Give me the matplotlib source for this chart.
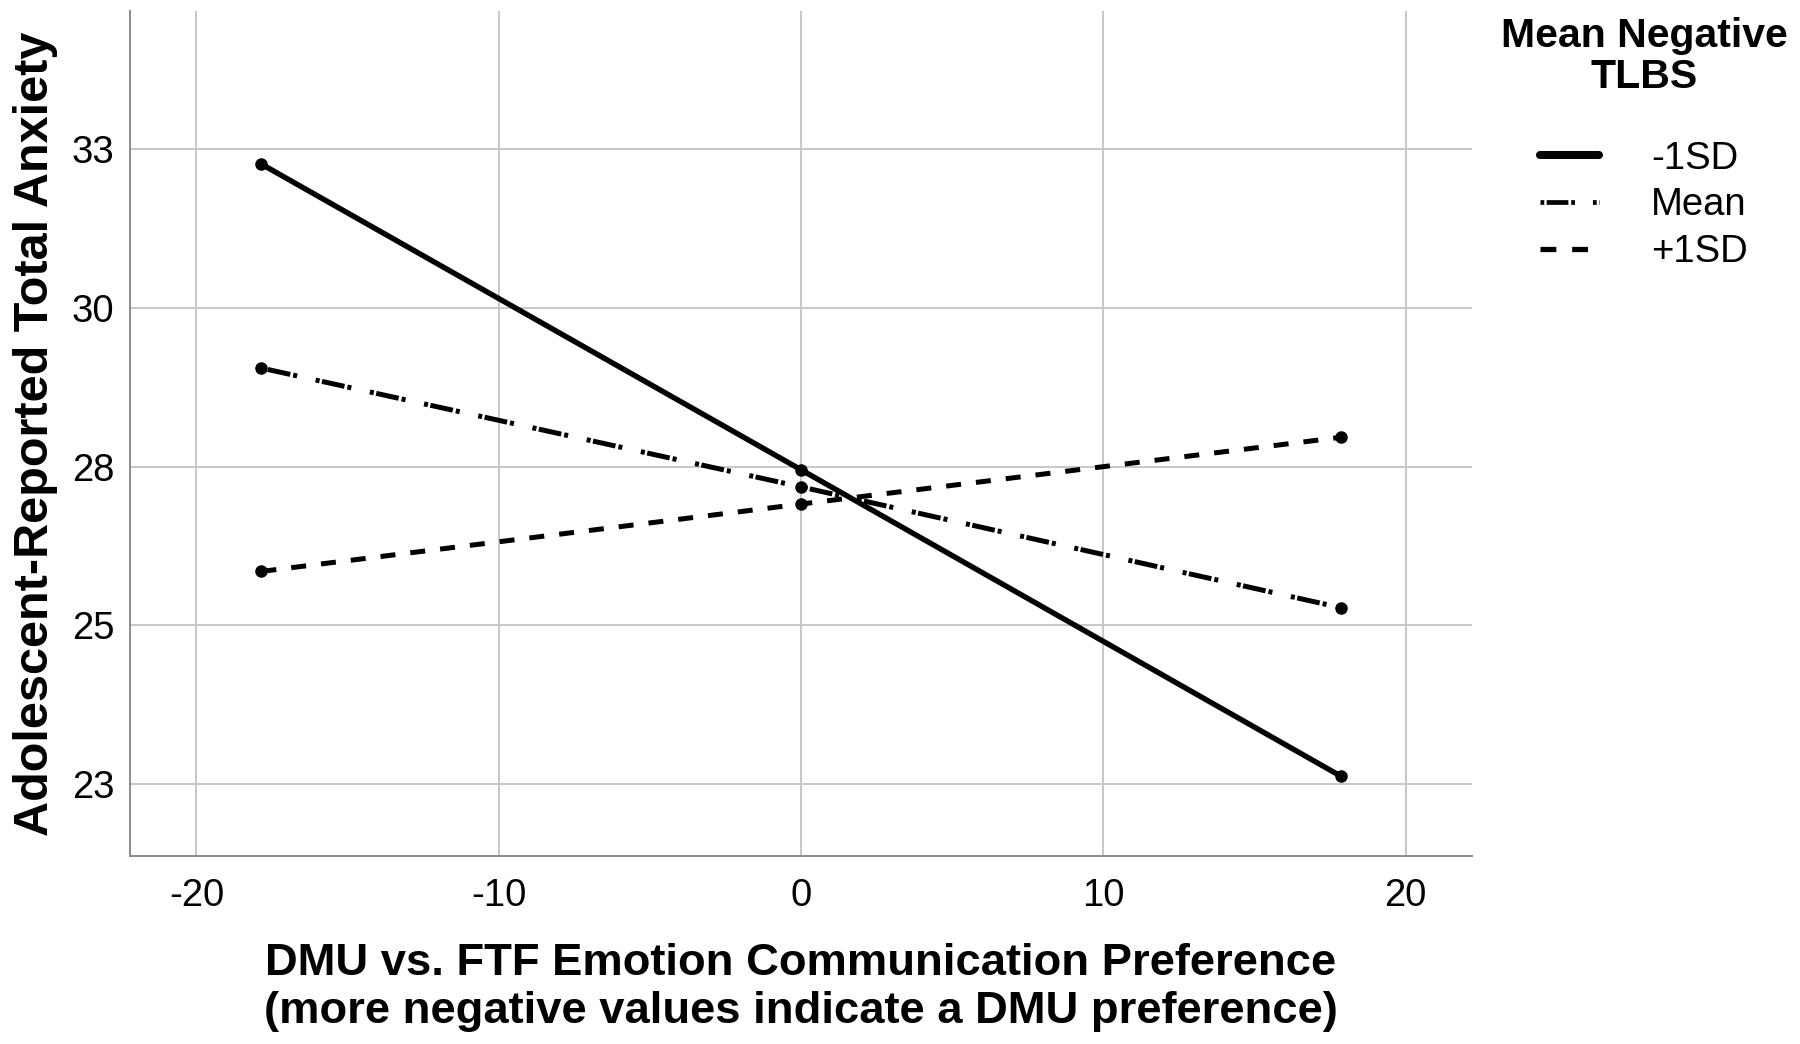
import matplotlib
matplotlib.use("Agg")
import matplotlib.pyplot as plt

plt.rcParams["font.family"] = ["Liberation Sans", "DejaVu Sans"]

# predicted values at -1SD / mean / +1SD of the preference score
x_points = [-17.85, 0.0, 17.85]
low_sd = [32.26, 27.45, 22.63]
mean_tlbs = [29.05, 27.18, 25.28]
high_sd = [25.85, 26.91, 27.96]
series_labels = ["-1SD", "Mean", "+1SD"]

y_ticks = [22.5, 25.0, 27.5, 30.0, 32.5]
y_tick_labels = ["23", "25", "28", "30", "33"]
x_ticks = [-20, -10, 0, 10, 20]

fig = plt.figure(figsize=(18, 10.44), dpi=100)
ax = fig.add_axes([0.0722, 0.180, 0.7456, 0.8095])

dash_dot = (0.8, 0.5, 4.6, 0.6, 0.8, 3.8)
ax.plot(x_points, low_sd, color="black", linewidth=3.9, marker="o",
        markersize=8, solid_capstyle="round", label=series_labels[0])
ax.plot(x_points, mean_tlbs, color="black", linewidth=3.6, marker="o",
        markersize=8, dashes=dash_dot, label=series_labels[1])
ax.plot(x_points, high_sd, color="black", linewidth=3.6, marker="o",
        markersize=8, dashes=(3.0, 3.0), label=series_labels[2])

ax.set_xlim(-22.2, 22.2)
ax.set_ylim(21.37, 34.67)
ax.set_xticks(x_ticks)
ax.set_xticklabels([str(t) for t in x_ticks])
ax.set_yticks(y_ticks)
ax.set_yticklabels(y_tick_labels)
ax.tick_params(axis="both", length=0, labelsize=27.5)
ax.tick_params(axis="x", pad=16)
ax.tick_params(axis="y", pad=11)

ax.grid(True, color="#c8c8c8", linewidth=1.4)
ax.set_axisbelow(True)
for side in ("top", "right"):
    ax.spines[side].set_visible(False)
for side in ("left", "bottom"):
    ax.spines[side].set_color("#8c8c8c")
    ax.spines[side].set_linewidth(1.4)

ax.set_xlabel("DMU vs. FTF Emotion Communication Preference\n"
              "(more negative values indicate a DMU preference)",
              fontsize=32.7, fontweight="bold", linespacing=1.2, labelpad=21)
ax.set_ylabel("Adolescent-Reported Total Anxiety", fontsize=35,
              fontweight="bold", labelpad=10)

leg = fig.legend(loc="upper center", bbox_to_anchor=(1644 / 1800, 1 + 2 / 1044),
                 frameon=False, fontsize=27.5, handlelength=1.55,
                 handletextpad=1.35, labelspacing=0.28, borderpad=0,
                 title="Mean Negative\nTLBS",
                 title_fontproperties={"size": 29.5, "weight": "bold"})
leg.get_title().set_linespacing(1.1)
leg.get_title().set_multialignment("center")
leg._legend_box.sep = 32
for handle, width in zip(leg.legend_handles, [5.8, 3.4, 3.8]):
    handle.set_marker("")
    handle.set_linewidth(width)

fig.savefig("out.png", dpi=100)
